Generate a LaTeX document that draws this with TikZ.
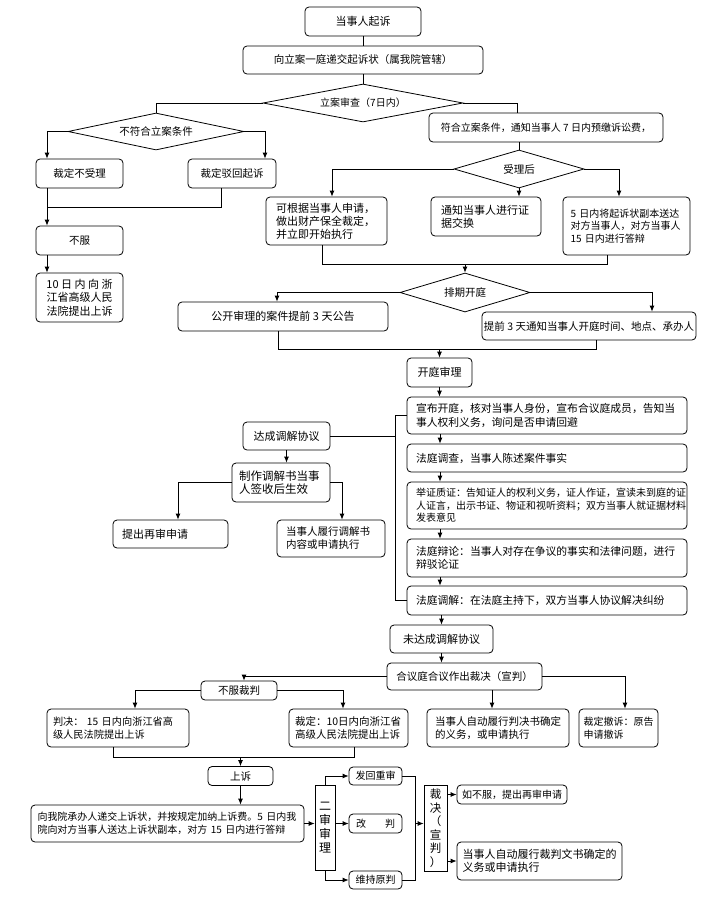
\documentclass[tikz,border=0pt]{standalone}
\usepackage{fontspec}
\setmainfont{Noto Sans CJK SC}
\usetikzlibrary{shapes.geometric,arrows.meta,calc}
\newcommand{\fsz}[2]{\fontsize{#1pt}{#2pt}\selectfont}
\tikzset{
  box/.style={draw=black, line width=0.8pt, rounded corners=4pt, fill=white, inner sep=0pt, align=center, font=\fsz{10.5}{12.5}},
  lbox/.style={box, align=left, inner ysep=0pt},
  vbox/.style={draw=black, line width=0.8pt, fill=white, inner sep=0pt, align=center, font=\fsz{12}{14}},
  dia/.style={draw=black, diamond, aspect=4, line width=0.8pt, fill=white, inner sep=0pt, font=\fsz{10.5}{12.5}},
  ln/.style={line width=0.8pt},
  arr/.style={line width=0.8pt, -{Latex[length=6pt,width=5pt]}}
}
\begin{document}
\begin{tikzpicture}[x=1pt,y=-1pt]
\useasboundingbox[fill=white] (0,0) rectangle (712,905);
% top
\node[box, minimum width=116, minimum height=29, font=\fsz{11}{13}] (n1) at (363,21.5) {当事人起诉};
\node[box, minimum width=240, minimum height=28] (n2) at (363,60) {向立案一庭递交起诉状（属我院管辖）};
\node[dia, minimum width=200, minimum height=38, font=\fsz{10}{12}] (d1) at (363,103) {立案审查（7日内）};
\node[dia, minimum width=176, minimum height=37] (d2) at (156,131.5) {不符合立案条件};
\node[box, minimum width=234, minimum height=29, font=\fsz{10}{12}] (n3) at (546,127.5) {符合立案条件，通知当事人 7 日内预缴诉讼费，};
\node[box, minimum width=87, minimum height=29] (n4) at (79.5,173.5) {裁定不受理};
\node[box, minimum width=88, minimum height=29] (n5) at (232,173.5) {裁定驳回起诉};
\node[box, minimum width=87, minimum height=29] (n6) at (79.5,240.5) {不服};
\node[box, minimum width=87, minimum height=49, font=\fsz{11}{13.5}] (n7) at (79.5,297.5) {10 日 内 向 浙\\江省高级人民\\法院提出上诉};
\node[dia, minimum width=130, minimum height=38] (d3) at (519,169) {受理后};
\node[lbox, text width=101, inner xsep=10, minimum height=48, font=\fsz{11}{13}] (n8) at (326.5,221) {可根据当事人申请，\\做出财产保全裁定，\\并立即开始执行};
\node[lbox, text width=90, inner xsep=10, minimum height=39, font=\fsz{11}{13}] (n9) at (486,216.5) {通知当事人进行证\\据交换};
\node[lbox, text width=112, inner xsep=7.5, minimum height=58, font=\fsz{10}{12.5}] (n10) at (626.5,226) {5 日内将起诉状副本送达\\对方当事人，对方当事人\\15 日内进行答辩};
\node[dia, minimum width=130, minimum height=39] (d4) at (465,292.5) {排期开庭};
\node[box, minimum width=210, minimum height=29, font=\fsz{11}{13}] (n11) at (283,316.5) {公开审理的案件提前 3 天公告};
\node[box, minimum width=214, minimum height=28] (n12) at (589,326) {提前 3 天通知当事人开庭时间、地点、承办人};
\node[box, minimum width=65, minimum height=29, font=\fsz{11}{13}] (n13) at (439.5,372.5) {开庭审理};
% trial column
\node[lbox, text width=262, inner xsep=9, minimum height=37, font=\fsz{10.8}{13.5}] (n14) at (547,415.5) {宣布开庭，核对当事人身份，宣布合议庭成员，告知当\\事人权利义务，询问是否申请回避};
\node[lbox, text width=262, inner xsep=9, minimum height=28, font=\fsz{10.8}{12.8}] (n15) at (547,458) {法庭调查，当事人陈述案件事实};
\node[lbox, text width=262, inner xsep=9, minimum height=47, font=\fsz{10}{12.5}] (n16) at (547,505.5) {举证质证：告知证人的权利义务，证人作证，宣读未到庭的证\\人证言，出示书证、物证和视听资料；双方当事人就证据材料\\发表意见};
\node[lbox, text width=262, inner xsep=9, minimum height=38, font=\fsz{10.8}{12.8}] (n17) at (547,558) {法庭辩论：当事人对存在争议的事实和法律问题，进行\\辩驳论证};
\node[lbox, text width=262, inner xsep=9, minimum height=29, font=\fsz{10.8}{12.8}] (n18) at (547,600.5) {法庭调解：在法庭主持下，双方当事人协议解决纠纷};
% mediation
\node[box, minimum width=87, minimum height=28, font=\fsz{11}{13}] (n19) at (286.5,436) {达成调解协议};
\node[lbox, text width=84, inner xsep=7, minimum height=39, font=\fsz{11.5}{13.5}] (n20) at (281,482.5) {制作调解书当事\\人签收后生效};
\node[lbox, text width=97, inner xsep=9, minimum height=28, font=\fsz{11}{13}] (n21) at (170.5,534) {提出再审申请};
\node[lbox, text width=90, inner xsep=9, minimum height=37, font=\fsz{10.5}{13}] (n22) at (331,538.5) {当事人履行调解书\\内容或申请执行};
% judgement
\node[box, minimum width=103, minimum height=28, font=\fsz{11}{13}] (n23) at (441.5,639) {未达成调解协议};
\node[box, minimum width=155, minimum height=27] (n24) at (464.5,676.5) {合议庭合议作出裁决（宣判）};
\node[box, minimum width=76, minimum height=19] (n25) at (239,690.5) {不服裁判};
\node[lbox, text width=70, inner xsep=4.5, minimum height=38, font=\fsz{10}{12.5}] (n26) at (618.5,728) {裁定撤诉：原告\\申请撤诉};
\node[lbox, text width=126, inner xsep=8, minimum height=38, font=\fsz{10.5}{13}] (n27) at (498,728) {当事人自动履行判决书确定\\的义务，或申请执行};
\node[lbox, text width=130, inner xsep=6, minimum height=38, font=\fsz{10.2}{12.8}] (n28) at (118,728) {判决： 15 日内向浙江省高\\级人民法院提出上诉};
\node[lbox, text width=107, inner xsep=6, minimum height=38, font=\fsz{10.5}{13}] (n29) at (348.5,728) {裁定：10日内向浙江省\\高级人民法院提出上诉};
\node[box, minimum width=65, minimum height=19] (n30) at (240.5,776) {上诉};
\node[lbox, text width=260, inner xsep=6.5, minimum height=37, font=\fsz{10}{12.5}] (n31) at (167.5,823.5) {向我院承办人递交上诉状，并按规定加纳上诉费。5 日内我\\院向对方当事人送达上诉状副本，对方 15 日内进行答辩};
\node[vbox, minimum width=20, minimum height=85] (n32) at (325,827.5) {二\\审\\审\\理};
\node[box, minimum width=53, minimum height=18, font=\fsz{10}{12}] (n33) at (375.5,776) {发回重审};
\node[box, minimum width=53, minimum height=19, font=\fsz{10}{12}] (n34) at (375.5,823.5) {改\hspace{19pt}判};
\node[box, minimum width=53, minimum height=18, font=\fsz{10}{12}] (n35) at (375.5,880) {维持原判};
\node[vbox, minimum width=23, minimum height=86, font=\fsz{11.5}{13.5}] (n36) at (435.5,828) {裁\\决\\（\\宣\\判\\）};
\node[box, minimum width=110, minimum height=19, font=\fsz{10}{12}] (n37) at (512,794.5) {如不服，提出再审申请};
\node[lbox, text width=154, inner xsep=5.5, minimum height=38, font=\fsz{11}{13}] (n38) at (539.5,861) {当事人自动履行裁判文书确定的\\义务或申请执行};
% helper coordinates
\coordinate (j1) at (47,207);
\coordinate (j2a) at (607,264);
\coordinate (j2) at (465,264);
\coordinate (j3a) at (596,349);
\coordinate (cx) at (440,0);
\coordinate (bx) at (395,0);
\coordinate (k1) at (492,0);
\coordinate (j4a) at (354,757);
\coordinate (vx) at (415,0);
% connectors top
\draw[ln] (n1.south) -- (n1.south |- n2.north);
\draw[ln] (n2.south) -- (d1.north);
\draw[ln] (d1.west) -| (d2.north);
\draw[ln] (d1.east) -| ([xshift=-29pt]n3.north);
\draw[arr] (d2.west) -| ([xshift=-32.5pt]n4.north);
\draw[arr] (d2.east) -| ([xshift=33pt]n5.north);
\draw[arr] ([xshift=-32.5pt]n4.south) -- ([xshift=-32.5pt]n6.north);
\draw[ln] ([xshift=-11pt]n5.south) |- (j1);
\draw[arr] ([xshift=-32.5pt]n6.south) -- ([xshift=-32.5pt]n7.north);
\draw[ln] ([xshift=-27pt]n3.south) -- (d3.north);
\draw[arr] (d3.west) -| ([xshift=5.5pt]n8.north);
\draw[arr] (d3.south) -- (d3.south |- n9.north);
\draw[arr] (d3.east) -| ([xshift=-7.5pt]n10.north);
\draw[ln] ([xshift=-4.5pt]n8.south) |- (j2a) -- ([xshift=-19.5pt]n10.south);
\draw[arr] (j2) -- (d4.north);
\draw[arr] (d4.west) -| ([xshift=-6pt]n11.north);
\draw[arr] (d4.east) -| ([xshift=63pt]n12.north);
\draw[ln] ([xshift=-5pt]n11.south) |- (j3a) -- ([xshift=7pt]n12.south);
\draw[arr] (n13.north |- j3a) -- (n13.north);
\draw[arr] (n13.south) -- (n13.south |- n14.north);
% column
\draw[arr] (cx |- n14.south) -- (cx |- n15.north);
\draw[arr] (cx |- n15.south) -- (cx |- n16.north);
\draw[arr] (cx |- n16.south) -- (cx |- n17.north);
\draw[arr] (cx |- n17.south) -- (cx |- n18.north);
\draw[ln] (n14.west) -- (bx |- n14.west) -- (bx |- n18.west) -- (n18.west);
\draw[ln] (n19.east) -- (bx |- n19.east);
\draw[arr] (n19.south) -- (n19.south |- n20.north);
\draw[arr] (n20.west) -| ([xshift=7.5pt]n21.north);
\draw[arr] (n20.east) -| ([xshift=11pt]n22.north);
% judgement
\draw[arr] (n23.north |- n18.south) -- (n23.north);
\draw[arr] (n23.south) -- (n23.south |- n24.north);
\draw[arr] (n24.west) -| ([xshift=5pt]n25.north);
\draw[arr] (n24.east) -| ([xshift=6.5pt]n26.north);
\draw[arr] (k1 |- n24.south) -- (k1 |- n27.north);
\draw[arr] (n25.west) -| ([xshift=17pt]n28.north);
\draw[arr] (n25.east) -| ([xshift=-5.5pt]n29.north);
\draw[ln] ([xshift=-5pt]n28.south) |- (j4a) -- ([xshift=5.5pt]n29.south);
\draw[arr] (n30.north |- j4a) -- (n30.north);
\draw[arr] (n30.south) -- (n30.south |- n31.north);
\draw[arr] (n31.east) -- (n31.east -| n32.west);
\draw[arr] (n32.north) |- (n33.west);
\draw[arr] (n32.east |- n34.west) -- (n34.west);
\draw[arr] (n32.south) |- (n35.west);
\draw[ln] (n33.east) -| (vx |- n35.east) -- (n35.east);
\draw[arr] (vx |- n34.east) -- (n36.west |- n34.east);
\draw[arr] (n36.east |- n37.west) -- (n37.west);
\draw[arr] (n36.east |- n38.west) -- (n38.west);
\end{tikzpicture}
\end{document}
